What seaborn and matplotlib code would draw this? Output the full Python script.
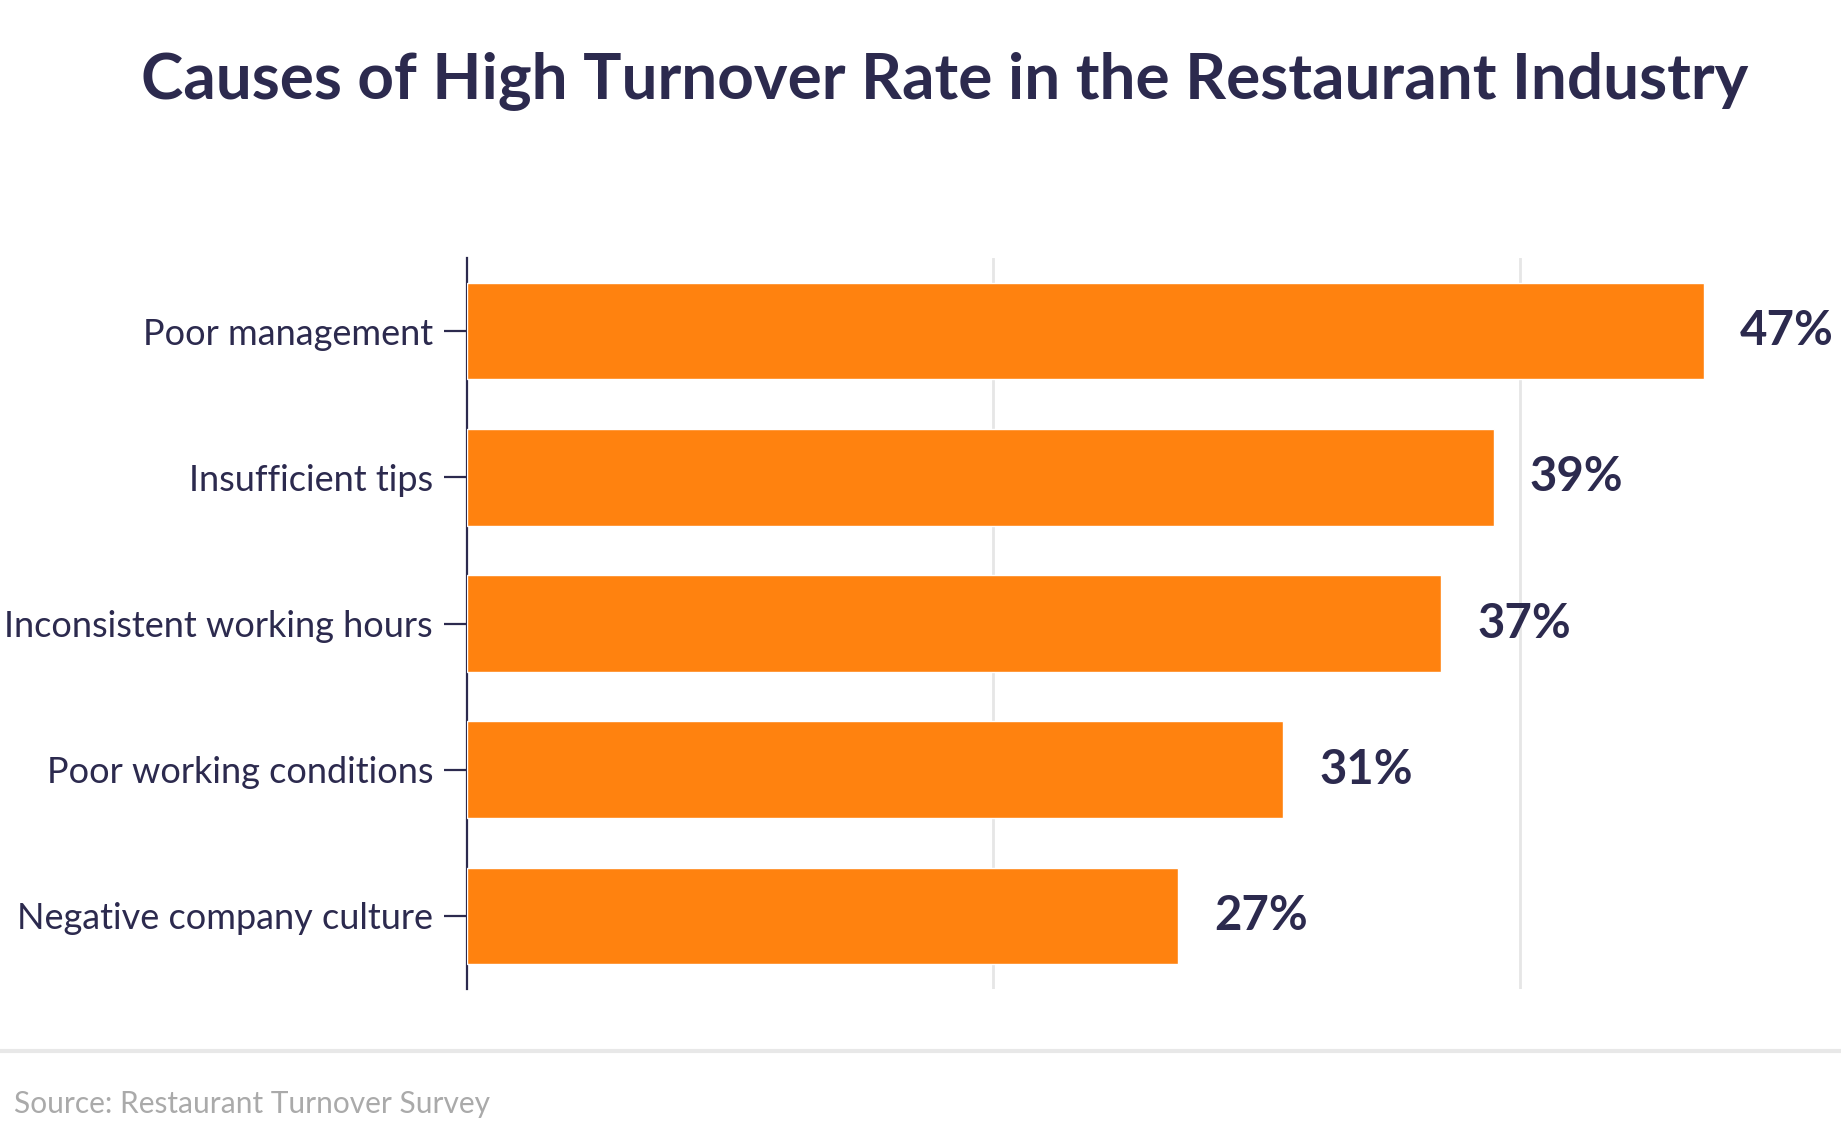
import matplotlib
matplotlib.use("Agg")
import matplotlib.pyplot as plt
import seaborn as sns
import pandas as pd

causes = [
    "Poor management",
    "Insufficient tips",
    "Inconsistent working hours",
    "Poor working conditions",
    "Negative company culture",
]
shares = [47, 39, 37, 31, 27]

NAVY = "#2c2a4e"
ORANGE = "#ff820f"

sns.set_style("white")
plt.rcParams["font.family"] = ["Lato", "DejaVu Sans"]

df = pd.DataFrame({"cause": causes, "share": shares})

fig = plt.figure(figsize=(18.41, 11.28), dpi=100)
ax = fig.add_axes([0.2537, 0.1232, 1 - 0.2537, 0.7713 - 0.1232])

sns.barplot(data=df, x="share", y="cause", color=ORANGE, saturation=1,
            width=0.66, ax=ax, zorder=3)

ax.set_xlim(0, 52.2)
ax.set_ylim(4.5, -0.5)
ax.set_xticks([20, 40])
ax.xaxis.grid(True, color="#e6e6e6", linewidth=2, zorder=0)
ax.set_axisbelow(True)
ax.set_xticklabels([])
ax.tick_params(axis="x", length=0)
ax.set_xlabel("")
ax.set_ylabel("")

for s in ["top", "right", "bottom"]:
    ax.spines[s].set_visible(False)
ax.spines["left"].set_color(NAVY)
ax.spines["left"].set_linewidth(1.6)

# seaborn's white style hides tick marks, so turn them back on
ax.tick_params(axis="y", left=True, length=16.5, width=1.6, color=NAVY, pad=8,
               labelsize=26, labelcolor=NAVY)

ax.bar_label(ax.containers[0], labels=[f"{v}%" for v in shares], padding=26,
             fontsize=34, fontweight="bold", color=NAVY)

fig.text(0.513, 0.929, "Causes of High Turnover Rate in the Restaurant Industry",
         ha="center", va="center", fontsize=46, fontweight="bold", color=NAVY)

fig.add_artist(plt.Line2D([0, 1], [0.0683, 0.0683], transform=fig.transFigure,
                          color="#e8e8e8", linewidth=3))
fig.text(0.0076, 0.0213, "Source: Restaurant Turnover Survey", ha="left",
         va="center", fontsize=21.5, color="#aaaaaa")

fig.savefig("out.png", dpi=100)
